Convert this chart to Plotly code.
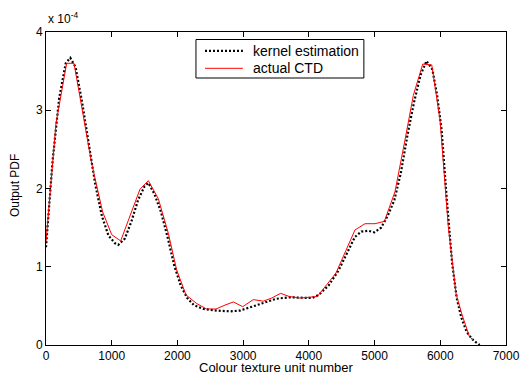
import plotly.graph_objects as go

# Probability density values are stored in units of 1e-4
kernel_x = [0, 100, 200, 300, 370, 450, 550, 650, 750, 850, 950, 1050, 1100, 1200,
            1300, 1400, 1500, 1560, 1650, 1750, 1850, 1950, 2050, 2150, 2250, 2400,
            2600, 2800, 2950, 3100, 3300, 3500, 3700, 3900, 4050, 4150, 4300, 4450,
            4600, 4700, 4800, 4900, 5000, 5100, 5200, 5300, 5400, 5500, 5600, 5700,
            5790, 5880, 5950, 6020, 6100, 6180, 6250, 6320, 6400, 6480, 6550, 6600]
kernel_y = [1.25, 2.35, 3.15, 3.6, 3.67, 3.55, 3.1, 2.55, 2.05, 1.65, 1.4, 1.3, 1.28, 1.36,
            1.58, 1.85, 2.03, 2.07, 1.93, 1.7, 1.38, 1.02, 0.76, 0.6, 0.51, 0.46,
            0.44, 0.43, 0.44, 0.48, 0.54, 0.59, 0.61, 0.6, 0.6, 0.64, 0.76, 0.95,
            1.21, 1.38, 1.45, 1.46, 1.44, 1.5, 1.65, 1.85, 2.2, 2.68, 3.1, 3.45,
            3.63, 3.52, 3.2, 2.75, 1.85, 1.05, 0.6, 0.35, 0.17, 0.08, 0.03, 0.0]

ctd_x = [0, 152, 314, 426, 517, 695, 862, 1000, 1136, 1278, 1430, 1557, 1709, 1861,
         1988, 2130, 2293, 2445, 2587, 2724, 2851, 2993, 3155, 3307, 3434, 3571,
         3703, 3865, 4129, 4271, 4413, 4565, 4702, 4855, 5007, 5149, 5311, 5463,
         5590, 5733, 5870, 5996, 6122, 6239, 6326, 6442, 6503]
ctd_y = [1.32, 2.83, 3.6, 3.6, 3.17, 2.32, 1.70, 1.41, 1.33, 1.64, 1.99, 2.10, 1.87, 1.43,
         0.96, 0.64, 0.53, 0.46, 0.46, 0.51, 0.55, 0.49, 0.58, 0.56, 0.60, 0.66,
         0.62, 0.60, 0.62, 0.77, 0.92, 1.21, 1.47, 1.55, 1.55, 1.58, 1.96, 2.62,
         3.19, 3.59, 3.58, 2.88, 1.51, 0.66, 0.40, 0.11, 0.06]

x_ticks = [0, 1000, 2000, 3000, 4000, 5000, 6000, 7000]
y_ticks = [0, 1, 2, 3, 4]

series_names = ["kernel estimation", "actual CTD"]

FONT = "Liberation Sans, Arial, Helvetica, sans-serif"
KERNEL_LINE = dict(color="black", width=2.2, dash="2px,2px")
CTD_LINE = dict(color="red", width=1)

fig = go.Figure()
fig.add_trace(go.Scatter(x=kernel_x, y=kernel_y, mode="lines",
                         name=series_names[0], line=KERNEL_LINE))
fig.add_trace(go.Scatter(x=ctd_x, y=ctd_y, mode="lines",
                         name=series_names[1], line=CTD_LINE))

axis_common = dict(
    showline=True, linecolor="black", linewidth=1, mirror="ticks",
    ticks="inside", ticklen=5, tickcolor="black", showgrid=False, zeroline=False,
    automargin=False,
    tickfont=dict(family=FONT, size=12, color="black"),
)

# Compact boxed legend drawn in paper coordinates
box = dict(x0=0.326, x1=0.691, y0=0.853, y1=0.976)
rows = [0.940, 0.884]
sample_x = (0.3457, 0.428)
text_x = 0.446

shapes = [dict(type="rect", xref="paper", yref="paper", **box,
               line=dict(color="black", width=1), fillcolor="white", layer="above")]
annotations = []
for name, style, ry in zip(series_names, [KERNEL_LINE, CTD_LINE], rows):
    shapes.append(dict(type="line", xref="paper", yref="paper",
                       x0=sample_x[0], x1=sample_x[1], y0=ry, y1=ry,
                       line=style, layer="above"))
    annotations.append(dict(text=name, xref="paper", yref="paper", x=text_x, y=ry,
                            xanchor="left", yanchor="middle", showarrow=False,
                            font=dict(family=FONT, size=14, color="black")))

annotations += [
    dict(text="x 10<sup>-4</sup>", xref="paper", yref="paper",
         x=0.0, y=1.0, xanchor="left", yanchor="bottom", yshift=4,
         showarrow=False, font=dict(family=FONT, size=12, color="black")),
    dict(text="Colour texture unit number", xref="paper", yref="paper",
         x=0.5, y=-0.1, xanchor="center", yanchor="bottom", borderpad=0,
         showarrow=False, font=dict(family=FONT, size=13, color="black")),
    dict(text="Output PDF", xref="paper", yref="paper", textangle=-90,
         x=-0.066, y=0.51, xanchor="center", yanchor="middle",
         showarrow=False, font=dict(family=FONT, size=12, color="black")),
]

fig.update_layout(
    width=527, height=376,
    margin=dict(l=46, r=21, t=32, b=31),
    paper_bgcolor="white", plot_bgcolor="white",
    font=dict(family=FONT, size=12, color="black"),
    showlegend=False,
    xaxis=dict(range=[0, 7000], tickvals=x_ticks,
               ticktext=[str(v) for v in x_ticks], **axis_common),
    yaxis=dict(range=[0, 4], tickvals=y_ticks,
               ticktext=[str(v) for v in y_ticks], **axis_common),
    shapes=shapes,
    annotations=annotations,
)

fig.write_html("out.html")
